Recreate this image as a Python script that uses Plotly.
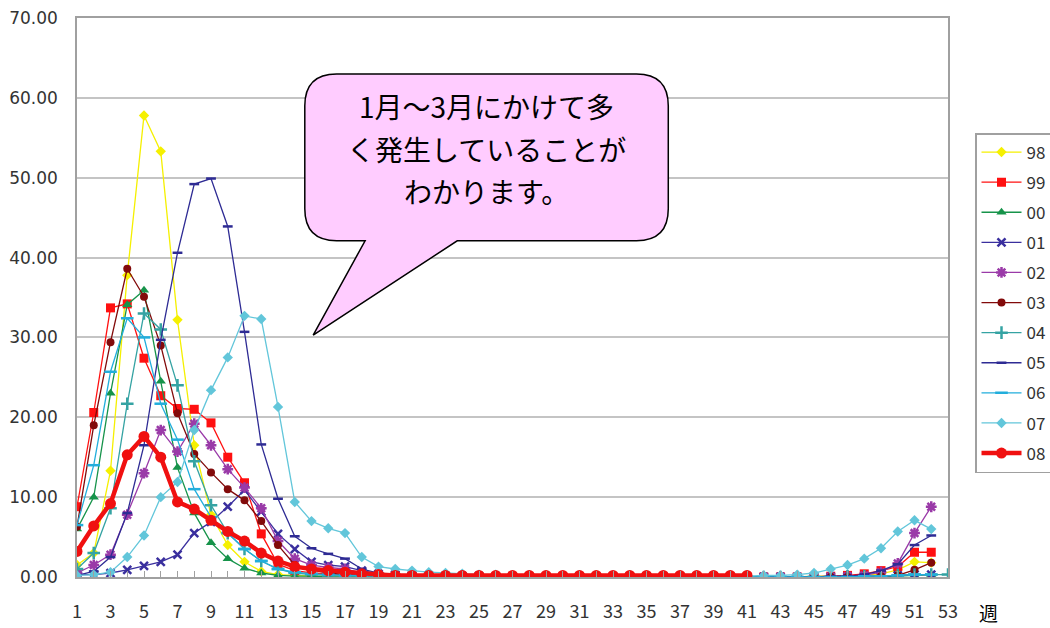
import plotly.graph_objects as go

# Weekly reports per sentinel, by season (week 1 .. 52/53)
weeks = list(range(1, 54))

s98 = [1.5, 3.0, 13.3, 37.8, 57.8, 53.3, 32.2, 16.5, 7.8, 4.0, 1.9, 0.7, 0.3, 0.2, 0.1, 0.1,
       0.1, 0.1, 0.1, 0.1, 0.1, 0.1, 0.1, 0.1, 0.0, 0.0, 0.0, 0.0, 0.0, 0.0, 0.0, 0.0,
       0.0, 0.0, 0.0, 0.0, 0.0, 0.0, 0.0, 0.0, 0.0, 0.0, 0.0, 0.0, 0.1, 0.1, 0.1, 0.2,
       0.4, 0.9, 1.9, 1.8]
s99 = [8.8, 20.6, 33.7, 34.2, 27.4, 22.7, 21.1, 21.0, 19.3, 15.0, 11.8, 5.4, 1.6, 0.8, 0.5, 0.4,
       0.3, 0.2, 0.2, 0.1, 0.1, 0.1, 0.1, 0.0, 0.0, 0.0, 0.0, 0.0, 0.0, 0.0, 0.0, 0.0,
       0.0, 0.0, 0.0, 0.0, 0.0, 0.0, 0.0, 0.0, 0.0, 0.0, 0.0, 0.0, 0.0, 0.1, 0.2, 0.4,
       0.8, 1.3, 3.1, 3.1]
s00 = [6.0, 10.0, 23.0, 34.1, 35.9, 24.5, 13.7, 8.0, 4.3, 2.3, 1.1, 0.5, 0.2, 0.1, 0.1, 0.0,
       0.0, 0.0, 0.0, 0.0, 0.0, 0.0, 0.0, 0.0, 0.0, 0.0, 0.0, 0.0, 0.0, 0.0, 0.0, 0.0,
       0.0, 0.0, 0.0, 0.0, 0.0, 0.0, 0.0, 0.0, 0.0, 0.0, 0.0, 0.0, 0.0, 0.0, 0.0, 0.0,
       0.0, 0.1, 0.2, 0.3]
s01 = [0.3, 0.3, 0.5, 0.9, 1.4, 1.9, 2.8, 5.5, 6.9, 8.8, 10.9, 8.2, 5.4, 3.5, 1.9, 1.5,
       1.3, 0.8, 0.4, 0.3, 0.2, 0.2, 0.1, 0.1, 0.1, 0.0, 0.0, 0.0, 0.0, 0.0, 0.0, 0.0,
       0.0, 0.0, 0.0, 0.0, 0.0, 0.0, 0.0, 0.0, 0.0, 0.0, 0.0, 0.0, 0.0, 0.0, 0.0, 0.1,
       0.1, 0.2, 0.3, 0.3]
s02 = [0.5, 1.5, 2.8, 7.8, 13.0, 18.4, 15.7, 19.2, 16.5, 13.5, 11.2, 8.6, 4.5, 2.3, 1.5, 1.2,
       1.0, 0.5, 0.3, 0.2, 0.1, 0.1, 0.1, 0.0, 0.0, 0.0, 0.0, 0.0, 0.0, 0.0, 0.0, 0.0,
       0.0, 0.0, 0.0, 0.0, 0.0, 0.0, 0.0, 0.0, 0.0, 0.0, 0.0, 0.0, 0.0, 0.0, 0.1, 0.2,
       0.6, 1.7, 5.5, 8.8]
s03 = [6.3, 19.0, 29.4, 38.6, 35.1, 29.0, 20.5, 15.4, 13.1, 11.0, 9.6, 7.0, 4.0, 1.5, 0.9, 0.5,
       0.3, 0.2, 0.1, 0.1, 0.1, 0.0, 0.0, 0.0, 0.0, 0.0, 0.0, 0.0, 0.0, 0.0, 0.0, 0.0,
       0.0, 0.0, 0.0, 0.0, 0.0, 0.0, 0.0, 0.0, 0.0, 0.0, 0.0, 0.0, 0.0, 0.0, 0.0, 0.0,
       0.1, 0.2, 0.9, 1.8]
s04 = [1.0, 3.0, 8.6, 21.7, 33.0, 31.0, 24.0, 14.5, 9.0, 5.5, 3.5, 2.0, 1.0, 0.5, 0.3, 0.2,
       0.1, 0.1, 0.1, 0.1, 0.1, 0.1, 0.0, 0.0, 0.0, 0.0, 0.0, 0.0, 0.0, 0.0, 0.0, 0.0,
       0.0, 0.0, 0.0, 0.0, 0.0, 0.0, 0.0, 0.0, 0.0, 0.0, 0.0, 0.0, 0.0, 0.0, 0.1, 0.1,
       0.1, 0.2, 0.3, 0.3, 0.3]
s05 = [0.2, 0.7, 2.5, 8.0, 16.5, 29.7, 40.6, 49.2, 49.9, 43.9, 30.7, 16.6, 9.8, 5.1, 3.6, 2.9,
       2.3, 1.0, 0.5, 0.3, 0.2, 0.2, 0.1, 0.1, 0.1, 0.0, 0.0, 0.0, 0.0, 0.0, 0.0, 0.0,
       0.0, 0.0, 0.0, 0.0, 0.0, 0.0, 0.0, 0.0, 0.0, 0.0, 0.0, 0.0, 0.0, 0.1, 0.1, 0.3,
       0.8, 1.6, 4.0, 5.2]
s06 = [6.5, 14.0, 25.7, 32.4, 30.0, 21.7, 17.2, 11.0, 7.5, 5.5, 3.5, 2.0, 1.0, 0.6, 0.4, 0.3,
       0.2, 0.2, 0.1, 0.1, 0.1, 0.1, 0.1, 0.0, 0.0, 0.0, 0.0, 0.0, 0.0, 0.0, 0.0, 0.0,
       0.0, 0.0, 0.0, 0.0, 0.0, 0.0, 0.0, 0.0, 0.0, 0.0, 0.0, 0.0, 0.0, 0.0, 0.0, 0.1,
       0.1, 0.2, 0.3, 0.3]
s07 = [0.2, 0.3, 0.6, 2.5, 5.2, 10.0, 11.9, 18.4, 23.4, 27.5, 32.7, 32.3, 21.3, 9.4, 7.0, 6.1,
       5.5, 2.5, 1.3, 1.0, 0.8, 0.6, 0.5, 0.4, 0.3, 0.3, 0.2, 0.2, 0.2, 0.1, 0.1, 0.1,
       0.1, 0.1, 0.1, 0.1, 0.1, 0.1, 0.1, 0.1, 0.1, 0.2, 0.2, 0.3, 0.5, 1.0, 1.5, 2.3,
       3.6, 5.7, 7.1, 6.0]
s08 = [3.2, 6.4, 9.2, 15.3, 17.6, 15.0, 9.4, 8.5, 7.1, 5.7, 4.5, 3.0, 2.0, 1.3, 1.0, 0.8,
       0.6, 0.4, 0.3, 0.2, 0.2, 0.2, 0.2, 0.2, 0.2, 0.2, 0.2, 0.2, 0.2, 0.2, 0.2, 0.2,
       0.2, 0.2, 0.2, 0.2, 0.2, 0.2, 0.2, 0.2, 0.2]

series = [
    ("98", s98, "#F5F000", "diamond", 8, 1.3),
    ("99", s99, "#FF1010", "square", 9, 1.3),
    ("00", s00, "#16934A", "triangle-up", 9, 1.3),
    ("01", s01, "#3A2F9E", "x-thin-open", 8, 1.3),
    ("02", s02, "#9A3AA8", "asterisk-open", 9, 1.3),
    ("03", s03, "#820A0A", "circle", 8, 1.3),
    ("04", s04, "#35A3A3", "cross-thin-open", 9, 1.3),
    ("05", s05, "#2E2B94", "line-ew-open", 7, 1.3),
    ("06", s06, "#22AEDC", "line-ew-open", 9, 1.3),
    ("07", s07, "#62C6DA", "diamond", 8, 1.3),
    ("08", s08, "#F01010", "circle", 11, 4.5),
]

fig = go.Figure()
for name, vals, color, symbol, msize, lw in series:
    open_sym = symbol.endswith("-open")
    fig.add_trace(go.Scatter(
        x=weeks[:len(vals)], y=vals, name=name, mode="lines+markers",
        legendgroup=name,
        line=dict(color=color, width=lw),
        marker=dict(symbol=symbol, size=msize, color=color,
                    line=dict(color=color, width=2.5 if open_sym else 0)),
    ))

# Speech-bubble callout drawn in data units (week, value)
L, R, T, B = 14.6, 36.3, 63.0, 42.1
rx, ry = 1.9, 4.0
tail_l, tail_r, tip_x, tip_y = 18.2, 23.7, 15.1, 30.3
bubble = (
    f"M {L+rx},{T} L {R-rx},{T} Q {R},{T} {R},{T-ry} "
    f"L {R},{B+ry} Q {R},{B} {R-rx},{B} "
    f"L {tail_r},{B} L {tip_x},{tip_y} L {tail_l},{B} "
    f"L {L+rx},{B} Q {L},{B} {L},{B+ry} "
    f"L {L},{T-ry} Q {L},{T} {L+rx},{T} Z"
)
fig.add_shape(type="path", path=bubble, xref="x", yref="y",
              fillcolor="#FFCCFF", line=dict(color="#000000", width=1.5), layer="above")

bubble_lines = [("1月～3月にかけて多", 59.0), ("く発生していることが", 53.6), ("わかります。", 48.3)]
for txt, yv in bubble_lines:
    fig.add_annotation(x=(L + R) / 2, y=yv, xref="x", yref="y", text=txt,
                       showarrow=False, xanchor="center", yanchor="middle",
                       font=dict(family="Noto Sans CJK JP", size=28, color="#000000"))

# axis title for the week axis, placed right of the last tick label
fig.add_annotation(x=1.046, y=-0.063, xref="paper", yref="paper", text="週",
                   showarrow=False, xanchor="center", yanchor="middle",
                   font=dict(family="Noto Sans CJK JP", size=19, color="#000000"))

fig.update_layout(
    width=1050, height=628,
    margin=dict(l=77, r=102, t=18, b=51, autoexpand=False),
    paper_bgcolor="white", plot_bgcolor="white",
    font=dict(family="Noto Sans CJK JP", color="#333333"),
    showlegend=True,
    legend=dict(x=975 / 1050, y=1 - 133 / 628, xref="container", yref="container",
                xanchor="left", yanchor="top", maxheight=420,
                bordercolor="#A0A0A0", borderwidth=1.5, bgcolor="white",
                font=dict(size=17, color="#333333"), tracegroupgap=5,
                itemwidth=40),
    xaxis=dict(range=[1, 53], tick0=1, dtick=2, showgrid=False, automargin=False,
               showline=True, linecolor="#A0A0A0", linewidth=1.5, mirror=True,
               ticks="inside", ticklen=6, tickcolor="#A0A0A0", ticklabelstandoff=18,
               minor=dict(tick0=1, dtick=1, ticks="inside", ticklen=6, tickcolor="#A0A0A0"),
               tickfont=dict(size=18, color="#333333"), zeroline=False),
    yaxis=dict(range=[0, 70], dtick=10, tickformat=".2f", showgrid=True, automargin=False,
               gridcolor="#C4C4C4", gridwidth=1.5,
               showline=True, linecolor="#A0A0A0", linewidth=1.5, mirror=True,
               ticks="", ticklabelstandoff=14,
               tickfont=dict(family="DejaVu Sans", size=17, color="#333333"), zeroline=False),
)

fig.write_html("out.html")
